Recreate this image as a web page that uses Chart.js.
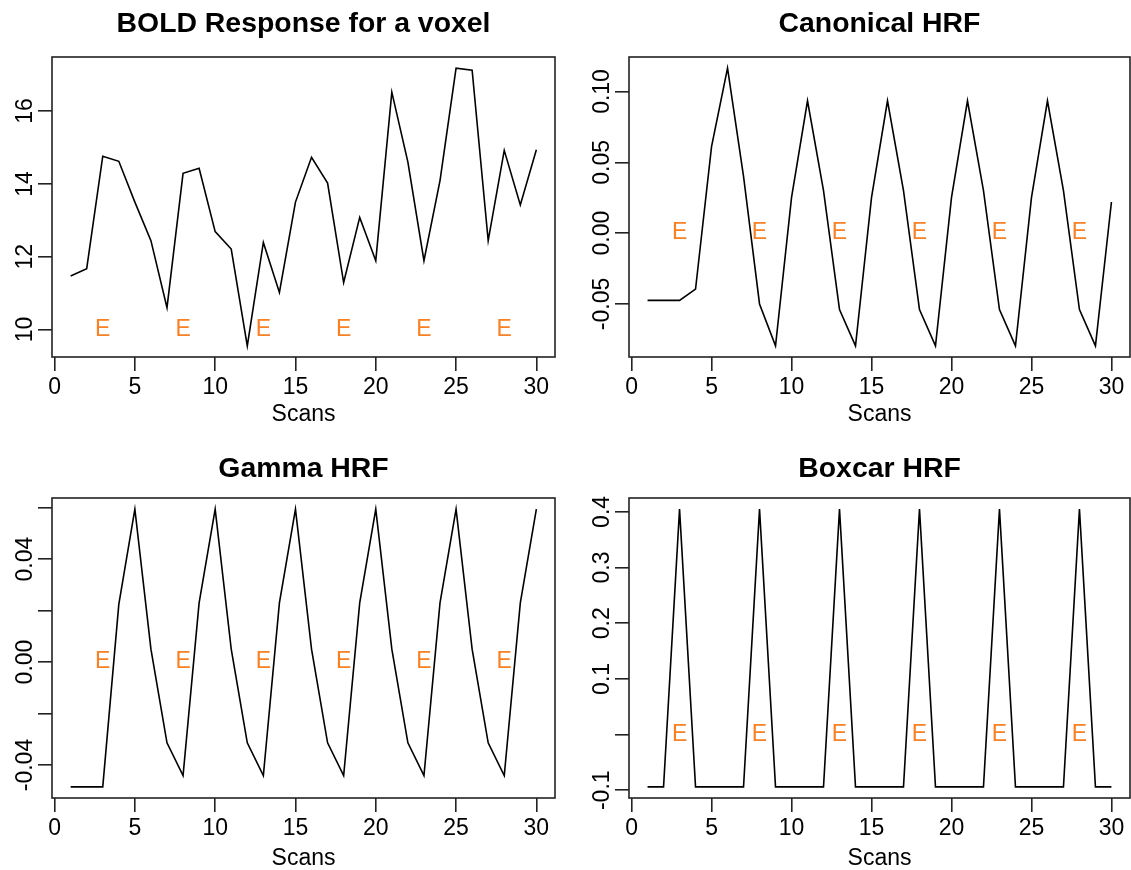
<!DOCTYPE html>
<html><head><meta charset="utf-8">
<script src="https://cdn.jsdelivr.net/npm/chart.js@4/dist/chart.umd.min.js"></script>
<style>
html,body{margin:0;padding:0;background:#fff;overflow:hidden;width:1131px;height:870px;}
canvas{position:absolute;}
</style></head><body>
<canvas id="c1" width="566" height="435" style="left:0px;top:0px"></canvas>
<canvas id="c2" width="566" height="435" style="left:565px;top:0px"></canvas>
<canvas id="c3" width="566" height="435" style="left:0px;top:435px"></canvas>
<canvas id="c4" width="566" height="435" style="left:565px;top:435px"></canvas>
<script>
// ---------- data ----------
const scans = [1,2,3,4,5,6,7,8,9,10,11,12,13,14,15,16,17,18,19,20,21,22,23,24,25,26,27,28,29,30];
const boldValues = [11.47,11.67,14.76,14.62,13.5,12.44,10.6,14.29,14.43,12.69,12.21,9.55,12.39,11.02,13.5,14.73,14.02,11.29,13.08,11.89,16.52,14.6,11.89,14.09,17.18,17.12,12.44,14.92,13.42,14.94];
const canonicalValues = [-0.0475,-0.0475,-0.0475,-0.0395,0.0611,0.1165,0.040,-0.050,-0.0796,0.025,0.0934,0.030,-0.054,-0.0796,0.025,0.0934,0.030,-0.054,-0.0796,0.025,0.0934,0.030,-0.054,-0.0796,0.025,0.0934,0.030,-0.054,-0.0796,0.022];
const gammaValues = [-0.0485,-0.0485,-0.0485,0.0224,0.0594,0.005,-0.0314,-0.0441,0.023,0.0594,0.005,-0.0314,-0.0441,0.023,0.0594,0.005,-0.0314,-0.0441,0.023,0.0594,0.005,-0.0314,-0.0441,0.023,0.0594,0.005,-0.0314,-0.0441,0.023,0.0594];
const boxcarValues = [-0.094,-0.094,0.405,-0.094,-0.094,-0.094,-0.094,0.405,-0.094,-0.094,-0.094,-0.094,0.405,-0.094,-0.094,-0.094,-0.094,0.405,-0.094,-0.094,-0.094,-0.094,0.405,-0.094,-0.094,-0.094,-0.094,0.405,-0.094,-0.094];
const eventScans = [3,8,13,18,23,28];
const eventLabel = 'E';
const xTicks = [0,5,10,15,20,25,30];
const boldTicks = [10,12,14,16];
const boldTickLabels = ['10','12','14','16'];
const canonicalTicks = [-0.05,0,0.05,0.10];
const canonicalTickLabels = ['-0.05','0.00','0.05','0.10'];
const gammaTicks = [-0.04,-0.02,0,0.02,0.04,0.06];
const gammaTickLabels = ['-0.04','','0.00','','0.04',''];
const boxcarTicks = [-0.1,0,0.1,0.2,0.3,0.4];
const boxcarTickLabels = ['-0.1','','0.1','0.2','0.3','0.4'];
const titles = ['BOLD Response for a voxel','Canonical HRF','Gamma HRF','Boxcar HRF'];
const xAxisTitle = 'Scans';

// ---------- styling ----------
const FONT = "'Liberation Sans', Arial, Helvetica, sans-serif";
const ORANGE = '#F88125';
const BASE = 23;

const panels = [
  {id:'c1', title:titles[0], values:boldValues, yTicks:boldTicks, yLabels:boldTickLabels, eventY:10,
   cell:{x:0,y:0,w:566,h:435}, area:{l:52,t:57,r:555,b:357}, titleBase:31.5, scansMid:415},
  {id:'c2', title:titles[1], values:canonicalValues, yTicks:canonicalTicks, yLabels:canonicalTickLabels, eventY:0,
   cell:{x:565,y:0,w:566,h:435}, area:{l:629,t:57,r:1130,b:357}, titleBase:31.5, scansMid:415},
  {id:'c3', title:titles[2], values:gammaValues, yTicks:gammaTicks, yLabels:gammaTickLabels, eventY:0,
   cell:{x:0,y:435,w:566,h:435}, area:{l:52,t:498,r:555,b:798}, titleBase:476.5, scansMid:859},
  {id:'c4', title:titles[3], values:boxcarValues, yTicks:boxcarTicks, yLabels:boxcarTickLabels, eventY:0,
   cell:{x:565,y:435,w:566,h:435}, area:{l:629,t:498,r:1130,b:798}, titleBase:476.5, scansMid:859}
];

const rPlot = {
  id: 'rPlot',
  afterDraw(chart, args, o) {
    const {ctx, chartArea: a, scales} = chart;
    ctx.save();
    ctx.strokeStyle = '#222'; ctx.lineWidth = 1.6;
    ctx.strokeRect(a.left, a.top, a.right - a.left, a.bottom - a.top);
    ctx.fillStyle = '#000';
    ctx.font = BASE + 'px ' + FONT;
    ctx.textAlign = 'center'; ctx.textBaseline = 'alphabetic';
    o.yTicks.forEach((v, i) => {
      const lab = o.yLabels[i];
      if (!lab) return;
      const y = scales.y.getPixelForValue(v);
      ctx.save(); ctx.translate(a.left - 20, y); ctx.rotate(-Math.PI / 2);
      ctx.fillText(lab, 0, 0); ctx.restore();
    });
    ctx.fillStyle = ORANGE; ctx.textBaseline = 'middle';
    eventScans.forEach(s => ctx.fillText(eventLabel, scales.x.getPixelForValue(s), scales.y.getPixelForValue(o.eventY)));
    ctx.fillStyle = '#000'; ctx.textBaseline = 'alphabetic';
    ctx.font = 'bold 28.4px ' + FONT;
    ctx.fillText(o.title, (a.left + a.right) / 2, o.titleBase);
    ctx.restore();
  }
};

panels.forEach(p => {
  const c = p.cell, a = p.area;
  const mn = Math.min(...p.values), mx = Math.max(...p.values), ext = (mx - mn) * 0.04;
  const xExt = (scans[scans.length - 1] - scans[0]) * 0.04;
  new Chart(document.getElementById(p.id), {
    type: 'line',
    data: { datasets: [{ data: scans.map((s, i) => ({x: s, y: p.values[i]})),
      borderColor: '#000', borderWidth: 1.6, pointRadius: 0, tension: 0, fill: false }] },
    options: {
      responsive: false, animation: false, events: [],
      layout: { padding: { left: 0, top: a.t - c.y, right: c.x + c.w - a.r, bottom: 0 } },
      plugins: {
        legend: {display: false}, tooltip: {enabled: false}, title: {display: false},
        rPlot: { title: p.title, yTicks: p.yTicks, yLabels: p.yLabels, eventY: p.eventY, titleBase: p.titleBase - c.y }
      },
      scales: {
        x: {
          type: 'linear', min: scans[0] - xExt, max: scans[scans.length - 1] + xExt,
          afterBuildTicks: s => { s.ticks = xTicks.map(v => ({value: v})); },
          afterFit: s => { s.height = c.y + c.h - a.b; },
          border: {display: false},
          grid: {display: true, drawOnChartArea: false, drawTicks: true, tickLength: 14, color: '#222', lineWidth: 1.6},
          ticks: {color: '#000', font: {family: FONT, size: BASE}, padding: 3, maxRotation: 0, autoSkip: false,
                  callback: v => String(v)},
          title: {display: true, text: xAxisTitle, color: '#000', font: {family: FONT, size: BASE},
                  padding: {top: 0, bottom: c.y + c.h - p.scansMid - BASE * 0.6}}
        },
        y: {
          type: 'linear', min: mn - ext, max: mx + ext,
          afterBuildTicks: s => { s.ticks = p.yTicks.map(v => ({value: v})); },
          afterFit: s => { s.width = a.l - c.x; },
          border: {display: false},
          grid: {display: true, drawOnChartArea: false, drawTicks: true, tickLength: 14, color: '#222', lineWidth: 1.6},
          ticks: {display: false}
        }
      }
    },
    plugins: [rPlot]
  });
});
</script>
</body></html>
